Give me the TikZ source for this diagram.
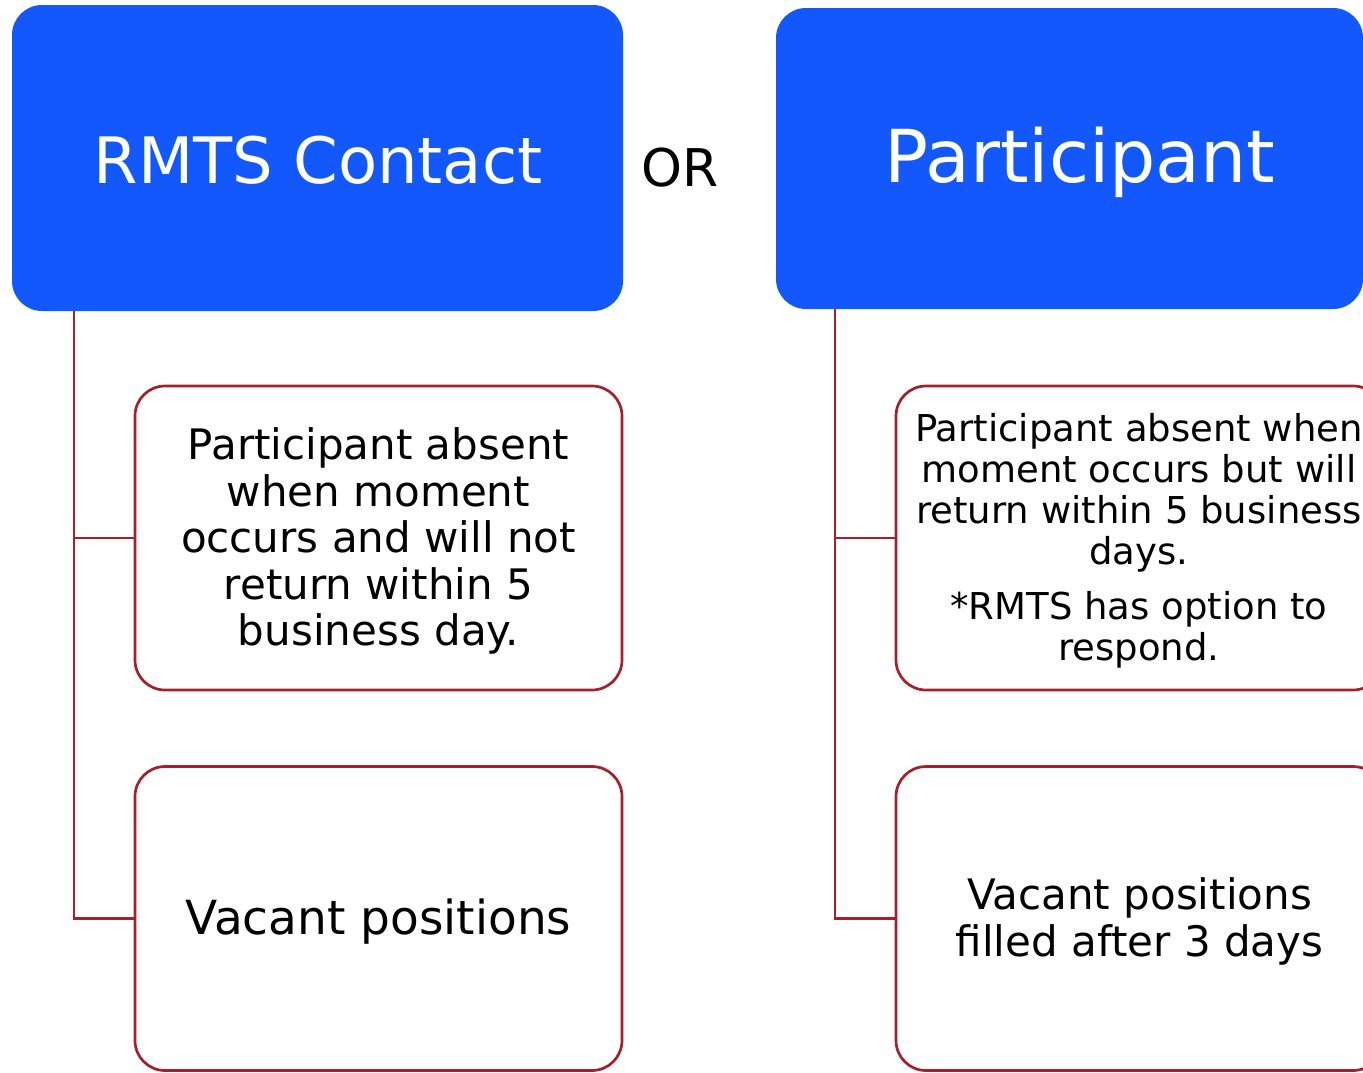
\documentclass[tikz,border=0pt]{standalone}
\usepackage{fontspec}
\setmainfont{DejaVu Sans}
\definecolor{hdrblue}{RGB}{18,88,252}
\definecolor{linered}{RGB}{163,32,44}
\begin{document}
\begin{tikzpicture}[x=1pt,y=-1pt,
  hdr/.style={fill=hdrblue, draw=none, rounded corners=30pt, text=white, inner sep=0pt},
  itembox/.style={draw=linered, line width=2.7pt, fill=white, rounded corners=30pt, align=center, inner sep=0pt, minimum width=487pt, minimum height=304pt},
  conn/.style={draw=linered, line width=2.8pt}]
\useasboundingbox (0,0) rectangle (1363,1072);
\clip (0,0) rectangle (1363,1072);
% headers
\node[hdr, minimum width=611pt, minimum height=306pt] (rmts) at (317.5,158) {};
\node[text=white, font=\fontsize{64}{70}\selectfont] (rmtst) at (318,160) {RMTS Contact};
\node[hdr, minimum width=587pt, minimum height=301pt] (part) at (1069.5,158.5) {};
\node[text=white, font=\fontsize{73}{80}\selectfont] (partt) at (1080,162) {Participant};
\node[font=\fontsize{52}{58}\selectfont] (or) at (680.5,168) {OR};
% left column
\node[itembox] (a1) at (378.5,538) {};
\node[align=center, font=\fontsize{42}{46.5}\selectfont] (a1t) at (378.5,541) {Participant absent\\when moment\\occurs and will not\\return within 5\\business day.};
\node[itembox] (a2) at (378.5,918.5) {};
\node[font=\fontsize{47}{52}\selectfont] (a2t) at (378.5,921.5) {Vacant positions};
% right column
\node[itembox] (b1) at (1139.5,538) {};
\node[align=center, font=\fontsize{37}{41}\selectfont] (b1t) at (1139,541) {Participant absent when\\moment occurs but will\\return within 5 business\\days.\\[14pt]*RMTS has option to\\respond.};
\node[itembox] (b2) at (1139.5,918.5) {};
\node[align=center, font=\fontsize{42}{47}\selectfont] (b2t) at (1139.5,921.5) {Vacant positions\\filled after 3 days};
% connectors
\coordinate (lroot) at (74,311);
\coordinate (rroot) at (835,309);
\draw[conn] (lroot) |- (a1.west);
\draw[conn] (lroot) |- (a2.west);
\draw[conn] (rroot) |- (b1.west);
\draw[conn] (rroot) |- (b2.west);
\end{tikzpicture}
\end{document}
